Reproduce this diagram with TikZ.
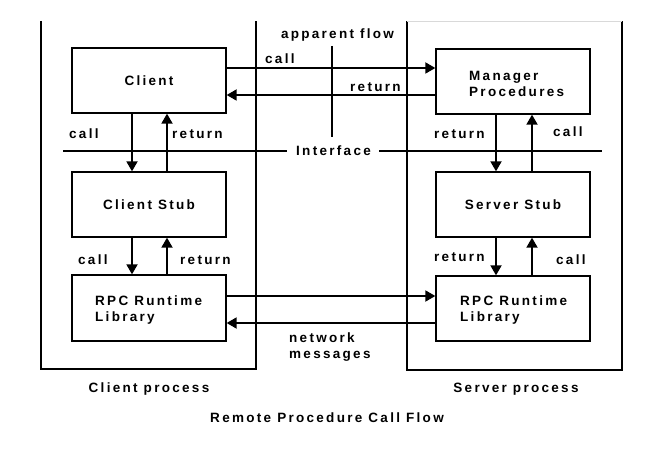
\documentclass[tikz,border=0pt]{standalone}
\usepackage{fontspec}
\setmainfont{Liberation Sans}[LetterSpace=17]
\usetikzlibrary{arrows.meta}
\begin{document}
\begin{tikzpicture}[x=1pt,y=-1pt,
  every node/.style={font=\bfseries\fontsize{13.5}{16}\selectfont, inner sep=0pt},
  blk/.style={draw, line width=1.3pt},
  proc/.style={line width=1.8pt},
  arr/.style={line width=1.8pt,-{Triangle[length=10pt,width=11pt]}},
  lbl/.style={anchor=base west}]
\useasboundingbox (0,0) rectangle (666,449);
% process boxes
\draw[proc] (41,21) -- (41,369) -- (256,369) -- (256,21);
\draw[proc] (407,21) -- (407,370) -- (622,370) -- (622,21);
\draw[black!15, line width=0.6pt] (407,21) -- (622,21);
% blocks
\node[blk, minimum width=154pt, minimum height=65pt] (client) at (149,80.5) {};
\node at (client.center) {Client};
\node[blk, minimum width=154pt, minimum height=65pt] (cstub) at (149,204.5) {};
\node at (cstub.center) {Client Stub};
\node[blk, minimum width=154pt, minimum height=66pt] (crpc) at (149,308) {};
\node[anchor=west, align=left] at (95,310) {RPC Runtime\\Library};
\node[blk, minimum width=154pt, minimum height=65pt] (mgr) at (513,81.5) {};
\node[anchor=west, align=left] at (469,84) {Manager\\Procedures};
\node[blk, minimum width=154pt, minimum height=65pt] (sstub) at (513,204.5) {};
\node at (sstub.center) {Server Stub};
\node[blk, minimum width=154pt, minimum height=65pt] (srpc) at (513,308.5) {};
\node[anchor=west, align=left] at (460,310.5) {RPC Runtime\\Library};
% vertical arrows left
\draw[arr] (client.south -| 132,0) -- (cstub.north -| 132,0);
\draw[arr] (cstub.north -| 167,0) -- (client.south -| 167,0);
\draw[arr] (cstub.south -| 132,0) -- (crpc.north -| 132,0);
\draw[arr] (crpc.north -| 167,0) -- (cstub.south -| 167,0);
% vertical arrows right
\draw[arr] (mgr.south -| 496,0) -- (sstub.north -| 496,0);
\draw[arr] (sstub.north -| 532,0) -- (mgr.south -| 532,0);
\draw[arr] (sstub.south -| 496,0) -- (srpc.north -| 496,0);
\draw[arr] (srpc.north -| 532,0) -- (sstub.south -| 532,0);
% horizontal arrows
\draw[arr] (client.east |- 0,68) -- (mgr.west |- 0,68);
\draw[arr] (mgr.west |- 0,95) -- (client.east |- 0,95);
\draw[arr] (crpc.east |- 0,296) -- (srpc.west |- 0,296);
\draw[arr] (srpc.west |- 0,323) -- (crpc.east |- 0,323);
% interface line
\node (iface) at (333.5,151) {Interface};
\coordinate (il) at (63,151);
\coordinate (ir) at (602,151);
\draw[line width=1.2pt] (il) -- ([xshift=-9pt]iface.west);
\draw[line width=1.2pt] ([xshift=8pt]iface.east) -- (ir);
% apparent flow
\node (app) at (337.5,35) {apparent flow};
\coordinate (fa) at (332,46);
\coordinate (fb) at (332,137);
\draw[line width=1.5pt] (fa) -- (fb);
% labels
\node[lbl] at (265,64) {call};
\node[lbl] at (350,92) {return};
\node[lbl] at (69,139) {call};
\node[lbl] at (172,139) {return};
\node[lbl] at (434,139) {return};
\node[lbl] at (553,137) {call};
\node[lbl] at (78,264) {call};
\node[lbl] at (180,264) {return};
\node[lbl] at (434,261) {return};
\node[lbl] at (556,264) {call};
\node[anchor=west, align=left] at (289,347) {network\\messages};
\node at (149,389) {Client process};
\node at (516,389) {Server process};
\node at (327,418) {Remote Procedure Call Flow};
\end{tikzpicture}
\end{document}
